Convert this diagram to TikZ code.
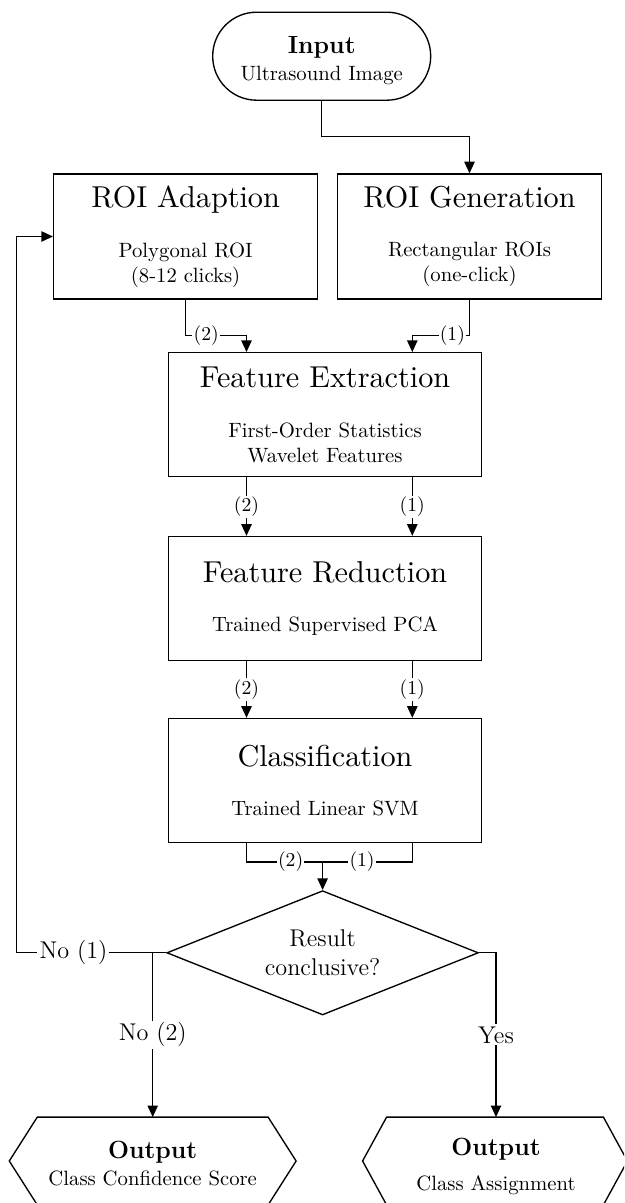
\documentclass[tikz,border=0pt]{standalone}
\usetikzlibrary{arrows.meta,shapes.geometric}
\newlength{\unitpx}
\setlength{\unitpx}{0.483pt}
% step titles: 10pt design size scaled up
\font\steptitlefont="[lmroman10-regular]:+tlig;" at 14.6pt
\newcommand{\steptitle}[1]{{\steptitlefont #1}}
\begin{document}
\begin{tikzpicture}[x=0.483pt,y=-0.483pt,
  line/.style={line width=0.65pt},
  arr/.style={line, -{Triangle[length=5.6pt,width=5pt]}},
  startbox/.style={draw, line width=0.65pt, rounded corners=21.2pt, align=center,
    inner sep=0pt, minimum width=218\unitpx, minimum height=88\unitpx},
  procbox/.style={draw, line width=0.65pt, align=center, inner sep=0pt,
    minimum width=264\unitpx, minimum height=125\unitpx},
  widebox/.style={procbox, minimum width=313\unitpx, minimum height=124\unitpx},
  decision/.style={draw, diamond, aspect=2.5, line width=0.65pt, align=center,
    inner sep=0pt, minimum width=311.6\unitpx, minimum height=124.3\unitpx,
    font=\fontsize{11.7}{13.7}\selectfont},
  outframe/.style={inner sep=0pt, minimum height=87\unitpx},
  outtitle/.style={anchor=base, inner sep=0pt, font=\large\bfseries},
  outsub/.style={anchor=base, inner sep=0pt},
  lbl/.style={fill=white, inner sep=0.6pt, font=\fontsize{9.5}{11.4}\selectfont},
  dlbl/.style={fill=white, inner sep=1pt, font=\fontsize{11.7}{14}\selectfont}]
\useasboundingbox (0,0) rectangle (624,1203);
\clip (0,0) rectangle (624,1203);

% process steps
\node[startbox] (in) at (321.7,56.2) {\rule{0pt}{12.6pt}{\large\bfseries Input}\\[1pt]Ultrasound Image};
\node[procbox] (roia) at (185.6,236.5) {\steptitle{ROI Adaption}\\[12pt]Polygonal ROI\\(8-12 clicks)};
\node[procbox] (roig) at (469.5,236.5) {\steptitle{ROI Generation}\\[12pt]Rectangular ROIs\\(one-click)};
\node[widebox] (fe) at (325,414.7) {\steptitle{Feature Extraction}\\[12pt]First-Order Statistics\\Wavelet Features};
\node[widebox] (fr) at (325,598.5) {\steptitle{Feature Reduction}\\[12pt]Trained Supervised PCA};
\node[widebox] (cls) at (325,780.5) {\steptitle{Classification}\\[12pt]Trained Linear SVM};
\node[decision] (dec) at (322.6,952.8) {Result\\conclusive?};

% output terminals (hexagons)
\node[outframe, minimum width=230\unitpx] (outL) at (152.7,1161) {};
\node[outframe, minimum width=216\unitpx] (outR) at (495,1161) {};
\draw[line] (outL.north west) -- (outL.north east) -- ([xshift=28\unitpx]outL.east)
  -- (outL.south east) -- (outL.south west) -- ([xshift=-28\unitpx]outL.west) -- cycle;
\draw[line] (outR.north west) -- (outR.north east) -- ([xshift=24\unitpx]outR.east)
  -- (outR.south east) -- (outR.south west) -- ([xshift=-24\unitpx]outR.west) -- cycle;
\node[outtitle] (outLa) at (152.7,1158) {Output};
\node[outsub] (outLb) at (152.7,1185) {Class Confidence Score};
\node[outtitle] (outRa) at (496,1155) {Output};
\node[outsub] (outRb) at (496,1190) {Class Assignment};

% routing points
\coordinate (cl) at (246.5,0);
\coordinate (cr) at (412.3,0);
\coordinate (j0) at (469.5,136.7);
\coordinate (ja) at (246.5,335.5);
\coordinate (jg) at (412.3,335.5);
\coordinate (jc) at (322.6,862);
\coordinate (fb) at (16.7,0);
\coordinate (jn) at (152.7,0);
\coordinate (jy) at (496,0);

% connectors
\draw[arr] (in.south) |- (j0) -- (roig.north);
\draw[arr] (roia.south) |- node[lbl,pos=0.67]{(2)} (ja) -- (ja |- fe.north);
\draw[arr] (roig.south) |- node[lbl,pos=0.65]{(1)} (jg) -- (jg |- fe.north);
\draw[arr] (fe.south -| cl) -- node[lbl]{(2)} (fr.north -| cl);
\draw[arr] (fe.south -| cr) -- node[lbl]{(1)} (fr.north -| cr);
\draw[arr] (fr.south -| cl) -- node[lbl]{(2)} (cls.north -| cl);
\draw[arr] (fr.south -| cr) -- node[lbl]{(1)} (cls.north -| cr);
\draw[line] (cls.south -| cl) |- node[lbl,pos=0.79]{(2)} (jc);
\draw[line] (cls.south -| cr) |- node[lbl,pos=0.78]{(1)} (jc);
\draw[arr] (jc) -- (dec.north);

\draw[arr] (dec.west) -- node[dlbl,pos=0.62]{No (1)} (dec.west -| fb) |- (roia.west);
\draw[arr] (dec.west) -- (dec.west -| jn) -- node[dlbl]{No (2)} (outL.north);
\draw[arr] (dec.east) -- (dec.east -| jy) -- node[dlbl]{Yes} (jy |- outR.north);
\end{tikzpicture}
\end{document}
